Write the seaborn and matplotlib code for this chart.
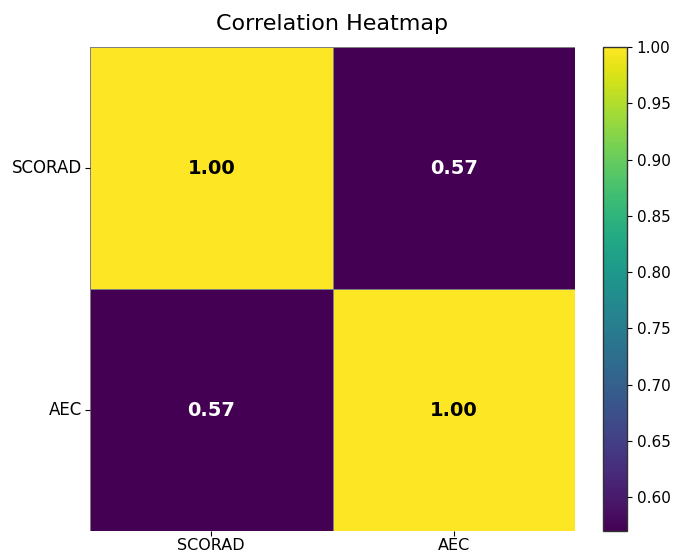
import numpy as np
import pandas as pd
import seaborn as sns
import matplotlib
matplotlib.use("Agg")
import matplotlib.pyplot as plt

variables = ["SCORAD", "AEC"]
corr_values = [[1.00, 0.57],
               [0.57, 1.00]]

corr = pd.DataFrame(corr_values, index=variables, columns=variables)

fig = plt.figure(figsize=(6.8, 5.55), dpi=100)
# heatmap and colorbar placed by hand to match the reference layout
ax = fig.add_axes([90 / 680, 24 / 555, 485 / 680, 484 / 555])
cax = fig.add_axes([603 / 680, 24 / 555, 24 / 680, 484 / 555])

sns.heatmap(corr, annot=True, fmt=".2f", cmap="viridis", ax=ax, cbar_ax=cax,
            linewidths=0.6, linecolor="gray", linestyle="--",
            annot_kws={"fontsize": 14, "fontweight": "bold"})

# black text on yellow, white on purple
for txt in ax.texts:
    txt.set_color("black" if float(txt.get_text()) > 0.8 else "white")

ax.set_title("Correlation Heatmap", fontsize=16, pad=12)
ax.tick_params(axis="y", labelsize=12, pad=2.5)
ax.tick_params(axis="x", labelsize=11.5, pad=1.5)
plt.setp(ax.get_yticklabels(), rotation=0)
plt.setp(ax.get_xticklabels(), rotation=0)

cax.set_yticks([0.60, 0.65, 0.70, 0.75, 0.80, 0.85, 0.90, 0.95, 1.00])
cax.tick_params(labelsize=11)
cbar = ax.collections[0].colorbar
cbar.outline.set_visible(True)
cbar.outline.set_edgecolor("#333333")
cbar.outline.set_linewidth(1.0)

fig.savefig("out.png", dpi=100)
